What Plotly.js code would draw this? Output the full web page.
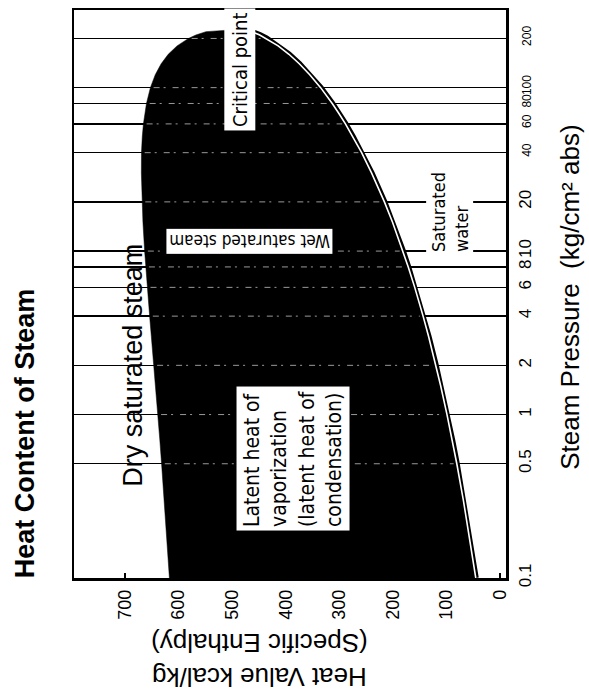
<!DOCTYPE html>
<html><head><meta charset="utf-8">
<script src="https://cdn.plot.ly/plotly-3.0.1.min.js"></script>
<style>html,body{margin:0;padding:0;background:#fff;}#chart{width:589px;height:693px;}</style>
</head><body><div id="chart"></div>
<script>
// Saturation curve: steam pressure (kg/cm2 abs) vs heat value (kcal/kg)
const pressure = [0.1, 0.2, 0.3, 0.5, 0.7, 1, 1.5, 2, 3, 4, 5, 6, 8, 10, 15, 20, 30, 40, 50, 60, 70, 80, 100, 120, 140, 160, 180, 200, 210, 220, 225.6];
const hLiquid = [45.4, 59.6, 68.6, 80.8, 89.4, 99.1, 110.9, 119.9, 133.4, 143.7, 152.1, 159.3, 171.4, 181.3, 200.7, 215.9, 239.7, 258.4, 274.5, 288.6, 301.4, 313.2, 334.9, 355.2, 374.7, 394.0, 414.1, 436.1, 448.5, 463.5, 501.5];
const hVapor = [617.0, 623.1, 626.8, 631.6, 634.9, 638.5, 642.8, 646.0, 650.7, 653.9, 656.3, 658.3, 661.2, 663.2, 666.4, 668.0, 669.3, 669.1, 667.6, 665.5, 662.9, 659.8, 652.5, 643.4, 632.4, 619.2, 602.8, 581.5, 567.6, 548.7, 501.5];

const enthalpyTicks = [0, 100, 200, 300, 400, 500, 600, 700];
const pressureTicks = [0.1, 0.5, 1, 2, 4, 6, 8, 10, 20, 40, 60, 80, 100, 200];
const pressureTickText = ['0.1', '0.5', '1', '2', '4', '6', '8', '10', '20', '40', '60', '80', '100', '200'];
const gridPressures = [0.5, 1, 2, 4, 6, 8, 10, 20, 40, 60, 80, 100, 200];

const NARROW = '"Liberation Sans Narrow", "Arial Narrow", "DejaVu Sans Condensed", sans-serif';
const SANS = '"Liberation Sans", Arial, Helvetica, sans-serif';

const domeX = hLiquid.concat(hVapor.slice().reverse());
const domeY = pressure.concat(pressure.slice().reverse());

const traces = [
  {x: hLiquid, y: pressure, mode: 'lines', line: {color: '#000', width: 6}, hoverinfo: 'skip'},
  {x: domeX, y: domeY, mode: 'lines', fill: 'toself', fillcolor: '#000', line: {color: '#000', width: 0.5}, hoverinfo: 'skip'},
  {x: hLiquid, y: pressure, mode: 'lines', line: {color: '#fff', width: 1.6}, hoverinfo: 'skip'}
];

const tickText = pressureTickText.map((t, i) => pressureTicks[i] >= 40 ? '<span style="font-size:12px">' + t + '</span>' : t);

const shapes = [
  {type: 'path', xref: 'paper', yref: 'paper', layer: 'between',
   path: 'M 0.0671,0.609 L 0.45,0.609 L 0.45,0.137 L 0.104,0.137 Z',
   fillcolor: '#fff', line: {width: 0}}
];
gridPressures.forEach(p => {
  const i = pressure.indexOf(p);
  shapes.push({type: 'line', xref: 'x', yref: 'y', layer: 'above',
    x0: hVapor[i] - 6, x1: hLiquid[i] + 6, y0: p, y1: p,
    line: {color: 'rgba(255,255,255,0.6)', width: 1, dash: '6px,4px,2px,7px'}});
});

const ann = (text, x, y, angle, font, extra) => Object.assign({
  text: text, x: x, y: y, xref: 'paper', yref: 'paper', showarrow: false,
  textangle: angle, xanchor: 'center', yanchor: 'middle', font: Object.assign({color: '#000'}, font)
}, extra || {});

const annotations = [
  ann('<b>Heat Content of Steam</b>', -0.1134, 0.255, -90, {family: SANS, size: 27}),
  ann('Steam Pressure  (kg/cm² abs)', 1.148, 0.495, -90, {family: SANS, size: 26}),
  ann('Heat Value kcal/kg<br>(Specific Enthalpy)', 0.428, -0.1444, 180, {family: SANS, size: 26}),
  ann('Dry saturated steam', 0.136, 0.375, -90, {family: SANS, size: 27}),
  ann('Critical point', 0.384, 0.896, -90, {family: NARROW, size: 20}, {bgcolor: '#fff', borderpad: 3}),
  ann('Wet saturated steam', 0.405, 0.593, 180, {family: NARROW, size: 17}, {bgcolor: '#fff', borderpad: 2}),
  ann('Latent heat of<br>vaporization<br>(latent heat of<br>condensation)', 0.507, 0.2095, -90, {family: NARROW, size: 21}, {bgcolor: '#fff', borderpad: 3, align: 'left'}),
  ann('Saturated<br>water', 0.870, 0.644, -90, {family: NARROW, size: 18}, {bgcolor: '#fff', borderpad: 1, align: 'left'})
];

const layout = {
  width: 589, height: 693,
  margin: {l: 74, r: 83, t: 10, b: 115},
  paper_bgcolor: '#fff', plot_bgcolor: '#fff', showlegend: false,
  xaxis: {
    range: [795, -11], tickvals: enthalpyTicks, ticktext: enthalpyTicks.map(String),
    tickangle: -90, tickfont: {family: SANS, size: 18, color: '#000'},
    ticks: 'inside', ticklen: 5, tickwidth: 1.5, tickcolor: '#000',
    showgrid: false, zeroline: false, showline: true, mirror: true,
    linecolor: '#000', linewidth: 2.5, ticklabelstandoff: 2, fixedrange: true
  },
  yaxis: {
    type: 'log', range: [-1, 2.475], side: 'right',
    tickvals: pressureTicks, ticktext: tickText,
    tickangle: -90, tickfont: {family: SANS, size: 17, color: '#000'},
    ticks: '', showgrid: true, gridcolor: '#000', gridwidth: 1.3,
    zeroline: false, showline: true, mirror: true,
    linecolor: '#000', linewidth: 2.5, ticklabelstandoff: 2, fixedrange: true
  },
  shapes: shapes,
  annotations: annotations
};

Plotly.newPlot('chart', traces, layout, {displayModeBar: false, staticPlot: true});
</script>
</body></html>
